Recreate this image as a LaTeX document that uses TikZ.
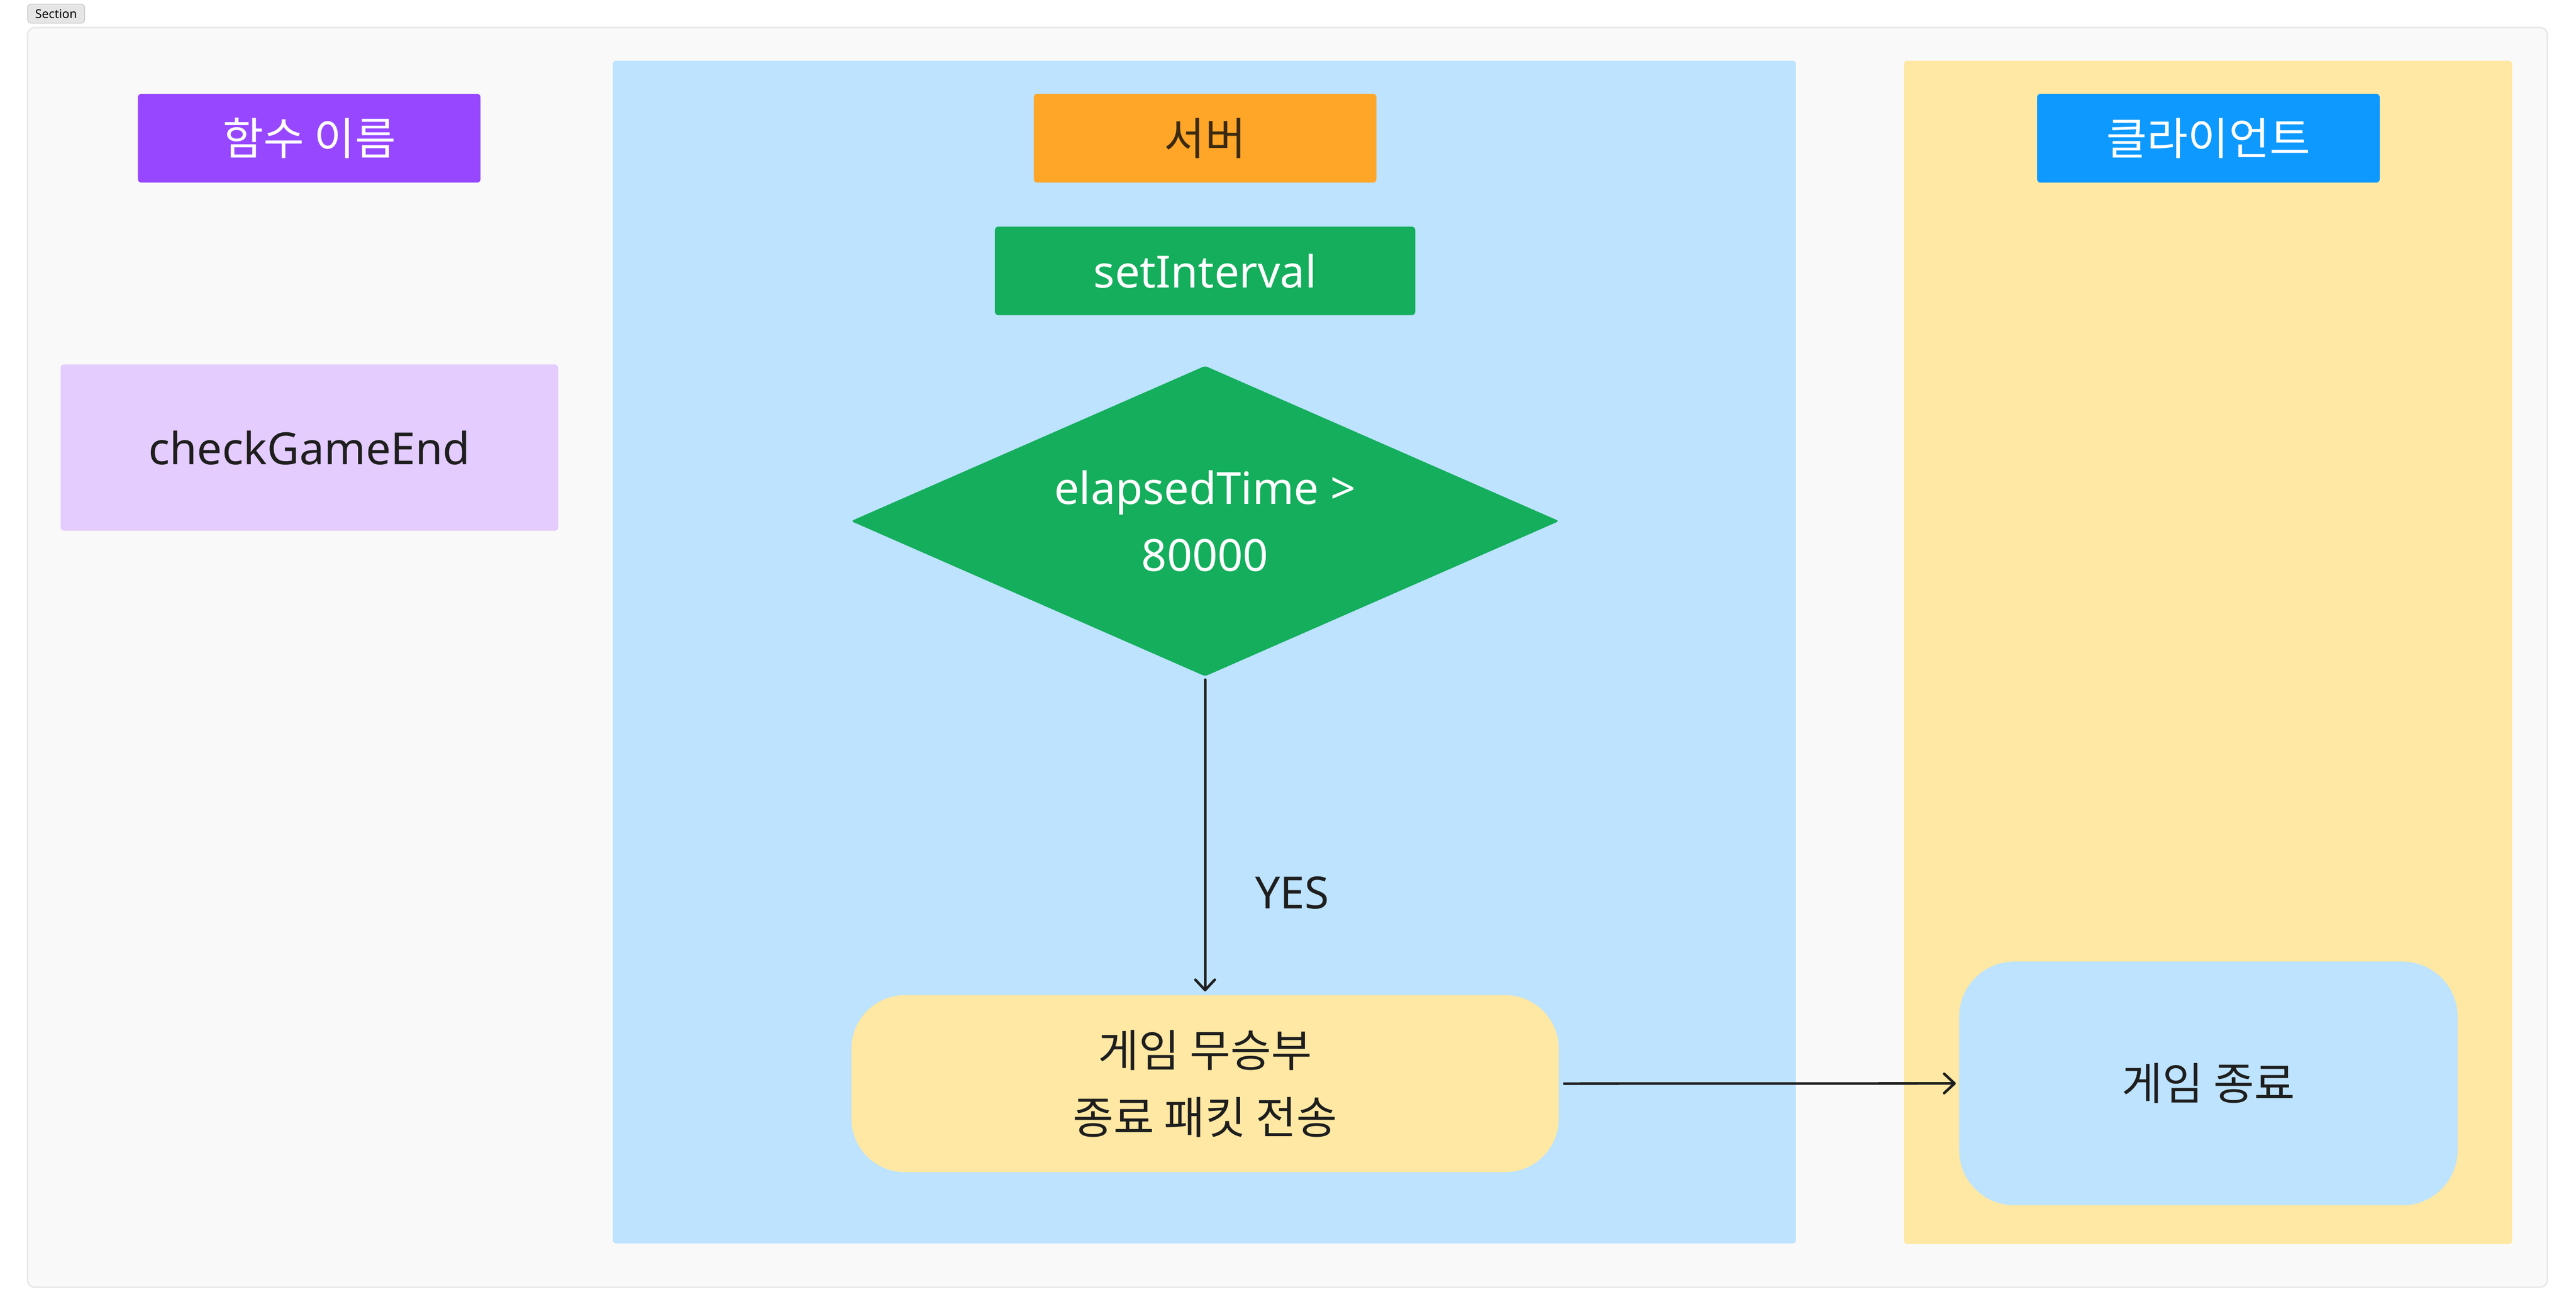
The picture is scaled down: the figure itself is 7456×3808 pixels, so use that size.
\documentclass[tikz,border=0pt]{standalone}
\usepackage{fontspec}
\setmainfont{Noto Sans}
\newfontfamily\kr{Noto Sans CJK KR}
\usetikzlibrary{shapes.geometric,arrows.meta}
\definecolor{cpurple}{HTML}{9747FF}
\definecolor{corange}{HTML}{FFA629}
\definecolor{cblue}{HTML}{0D99FF}
\definecolor{cgreen}{HTML}{14AE5C}
\definecolor{cbluel}{HTML}{BDE3FF}
\definecolor{cyell}{HTML}{FFE8A3}
\definecolor{cviolet}{HTML}{E4CCFF}
\definecolor{cbrown}{HTML}{3B2A0F}
\definecolor{ctext}{HTML}{1E1E1E}
\definecolor{cframe}{HTML}{F9F9F9}
\definecolor{cframeb}{HTML}{E6E6E6}
\definecolor{cgray}{HTML}{E6E6E6}
\definecolor{cgrayb}{HTML}{C8C8C8}
\newcommand\bigfs{\fontsize{36.5}{55}\selectfont}
\tikzset{
  header/.style={inner sep=0, rounded corners=0.1cm, font=\bigfs\kr, text=white,
    minimum width=9.91cm, minimum height=2.57cm},
  plainbox/.style={inner sep=0, rounded corners=0.1cm, font=\bigfs, text=ctext},
  roundbox/.style={inner sep=0, font=\bigfs\kr, align=center},
  conn/.style={draw=ctext, line width=0.075cm, line cap=round,
    -{Straight Barb[length=0.3cm, width=0.56cm, round]}}
}
\begin{document}
\begin{tikzpicture}[x=0.01cm, y=-0.01cm]
\useasboundingbox (0,0) rectangle (7456,3808);
\fill[white] (0,0) rectangle (7456,3808);
% section tag
\node[draw=cgrayb, line width=0.02cm, fill=cgray, rounded corners=0.1cm, minimum width=1.65cm,
  minimum height=0.55cm, inner sep=0, font=\fontsize{10}{12}\selectfont] (sec) at (162.5,39.5) {Section};
% outer frame
\draw[fill=cframe, draw=cframeb, line width=0.04cm, rounded corners=0.2cm] (80,80) rectangle (7373,3725);
% lanes
\fill[cbluel, rounded corners=0.08cm] (1774,176) rectangle (5198,3598);
\fill[cyell, rounded corners=0.08cm] (5511,176) rectangle (7271,3600);
% headers
\node[header, fill=cpurple] (fn) at (895,400) {함수 이름};
\node[header, fill=corange, text=cbrown] (srv) at (3488,400) {서버};
\node[header, fill=cblue] (cli) at (6392,400) {클라이언트};
\node[plainbox, fill=cgreen, text=white, minimum width=12.16cm, minimum height=2.56cm] (si) at (3488,784) {setInterval};
\node[plainbox, fill=cviolet, minimum width=14.39cm, minimum height=4.81cm] (cge) at (895.5,1295.5) {checkGameEnd};
% decision
\node[diamond, aspect=2.28, fill=cgreen, minimum width=20.49cm, minimum height=8.98cm, inner sep=0,
  rounded corners=0.08cm, text=white, align=center, font=\bigfs] (dec) at (3488,1508) {elapsedTime >\\80000};
% process boxes
\node[roundbox, fill=cyell, rounded corners=1.55cm, minimum width=20.46cm, minimum height=5.12cm, text=ctext]
  (drawbox) at (3488,3136) {게임 무승부\\종료 패킷 전송};
\node[roundbox, fill=cbluel, rounded corners=1.6cm, minimum width=14.42cm, minimum height=7.05cm, text=ctext]
  (endbox) at (6392,3135.5) {게임 종료};
% connectors
\draw[conn, shorten <=0.09cm, shorten >=0.1cm] (dec.south) -- (drawbox.north);
\draw[conn, shorten <=0.15cm, shorten >=0.09cm] (drawbox.east) -- (endbox.west);
\node[anchor=base west, inner sep=0, font=\bigfs, text=ctext] (yes) at (3632,2630) {YES};
\end{tikzpicture}
\end{document}
